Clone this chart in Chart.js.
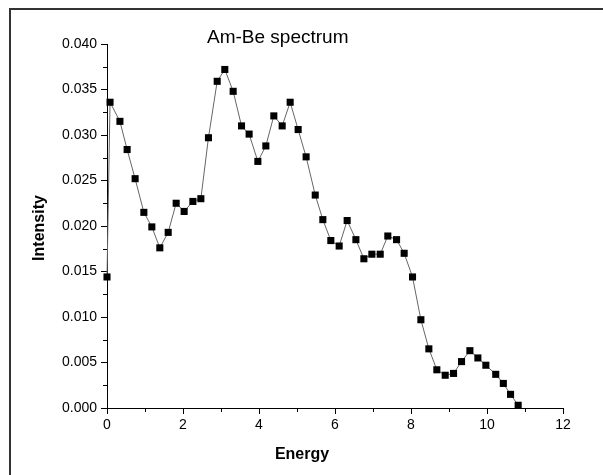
<!DOCTYPE html>
<html>
<head>
<meta charset="utf-8">
<script src="https://cdn.jsdelivr.net/npm/chart.js@4"></script>
<style>
  body { margin: 0; background: #fff; }
  canvas { display: block; }
</style>
</head>
<body>
<canvas id="spectrum" width="603" height="475"></canvas>
<script>
// Am-Be neutron spectrum
const energy = [0, 0.08, 0.34, 0.53, 0.74, 0.97, 1.18, 1.39, 1.61, 1.82,
  2.03, 2.26, 2.47, 2.67, 2.9, 3.1, 3.32, 3.54, 3.74, 3.97,
  4.18, 4.39, 4.61, 4.82, 5.03, 5.24, 5.48, 5.68, 5.89, 6.11,
  6.32, 6.55, 6.76, 6.97, 7.19, 7.39, 7.62, 7.82, 8.04, 8.26,
  8.47, 8.68, 8.9, 9.12, 9.33, 9.55, 9.76, 9.97, 10.23, 10.43,
  10.62, 10.82];
const intensity = [0.0144, 0.0336, 0.0315, 0.0284, 0.0252, 0.0215, 0.0199, 0.0176, 0.0193, 0.0225,
  0.0216, 0.0227, 0.0230, 0.0297, 0.0359, 0.0372, 0.0348, 0.0310, 0.0301, 0.0271,
  0.0288, 0.0321, 0.0310, 0.0336, 0.0306, 0.0276, 0.0234, 0.0207, 0.0184, 0.0178,
  0.0206, 0.0185, 0.0164, 0.0169, 0.0169, 0.0189, 0.0185, 0.0170, 0.0144, 0.0097,
  0.0065, 0.0042, 0.0036, 0.0038, 0.0051, 0.0063, 0.0055, 0.0047, 0.0037, 0.0027,
  0.0015, 0.0003];
const xTicks = [0, 2, 4, 6, 8, 10, 12];
const yTicks = [0, 0.005, 0.01, 0.015, 0.02, 0.025, 0.03, 0.035, 0.04];
const xMinor = [1, 3, 5, 7, 9, 11];
const yMinor = [0.0025, 0.0075, 0.0125, 0.0175, 0.0225, 0.0275, 0.0325, 0.0375];

const chartTitle = 'Am-Be spectrum';
const xLabel = 'Energy';
const yLabel = 'Intensity';

const points = energy.map((e, i) => ({ x: e, y: intensity[i] }));

// Frame, minor ticks and titles drawn on top of the chart
const decorations = {
  id: 'decorations',
  afterDraw(chart) {
    const ctx = chart.ctx;
    const xs = chart.scales.x, ys = chart.scales.y;
    const area = chart.chartArea;
    ctx.save();
    // outer frame (only top and left visible)
    ctx.strokeStyle = '#333';
    ctx.lineWidth = 2;
    ctx.strokeRect(10, 9, 800, 800);
    // minor ticks
    ctx.strokeStyle = '#000';
    ctx.lineWidth = 1;
    ctx.beginPath();
    xMinor.forEach(v => {
      const p = Math.round(xs.getPixelForValue(v)) + 0.5;
      ctx.moveTo(p, area.bottom);
      ctx.lineTo(p, area.bottom + 4);
    });
    yMinor.forEach(v => {
      const p = Math.round(ys.getPixelForValue(v)) + 0.5;
      ctx.moveTo(area.left, p);
      ctx.lineTo(area.left - 4, p);
    });
    ctx.stroke();
    // chart title
    ctx.fillStyle = '#000';
    ctx.font = '19px "Liberation Sans", Arial, sans-serif';
    ctx.textAlign = 'left';
    ctx.textBaseline = 'alphabetic';
    ctx.fillText(chartTitle, 207, 43);
    // axis titles
    ctx.font = 'bold 16px "Liberation Sans", Arial, sans-serif';
    ctx.textAlign = 'center';
    ctx.textBaseline = 'middle';
    ctx.fillText(xLabel, 302, 455);
    ctx.translate(40, 228);
    ctx.rotate(-Math.PI / 2);
    ctx.fillText(yLabel, 0, 0);
    ctx.restore();
  }
};

new Chart(document.getElementById('spectrum'), {
  type: 'line',
  data: {
    datasets: [{
      data: points,
      borderColor: '#666',
      borderWidth: 1,
      tension: 0,
      pointStyle: 'rect',
      pointRadius: 5,
      pointBorderWidth: 0,
      pointBackgroundColor: '#000',
      clip: false
    }]
  },
  options: {
    responsive: false,
    animation: false,
    devicePixelRatio: 1,
    layout: { padding: { top: 44, right: 40, left: 0, bottom: 0 } },
    plugins: { legend: { display: false }, tooltip: { enabled: false } },
    scales: {
      x: {
        type: 'linear',
        min: 0,
        max: 12,
        afterBuildTicks: s => { s.ticks = xTicks.map(v => ({ value: v })); },
        afterFit: s => { s.height = 67; },
        ticks: {
          color: '#000',
          padding: 3,
          font: { family: '"Liberation Sans", Arial, sans-serif', size: 14 }
        },
        grid: { drawOnChartArea: false, drawTicks: true, tickLength: 6, color: '#000' },
        border: { display: true, color: '#000', width: 1 }
      },
      y: {
        min: 0,
        max: 0.04,
        afterBuildTicks: s => { s.ticks = yTicks.map(v => ({ value: v })); },
        afterFit: s => { s.width = 107; },
        ticks: {
          color: '#000',
          padding: 4,
          callback: v => v.toFixed(3),
          font: { family: '"Liberation Sans", Arial, sans-serif', size: 14 }
        },
        grid: { drawOnChartArea: false, drawTicks: true, tickLength: 6, color: '#000' },
        border: { display: true, color: '#000', width: 1 }
      }
    }
  },
  plugins: [decorations]
});
</script>
</body>
</html>
